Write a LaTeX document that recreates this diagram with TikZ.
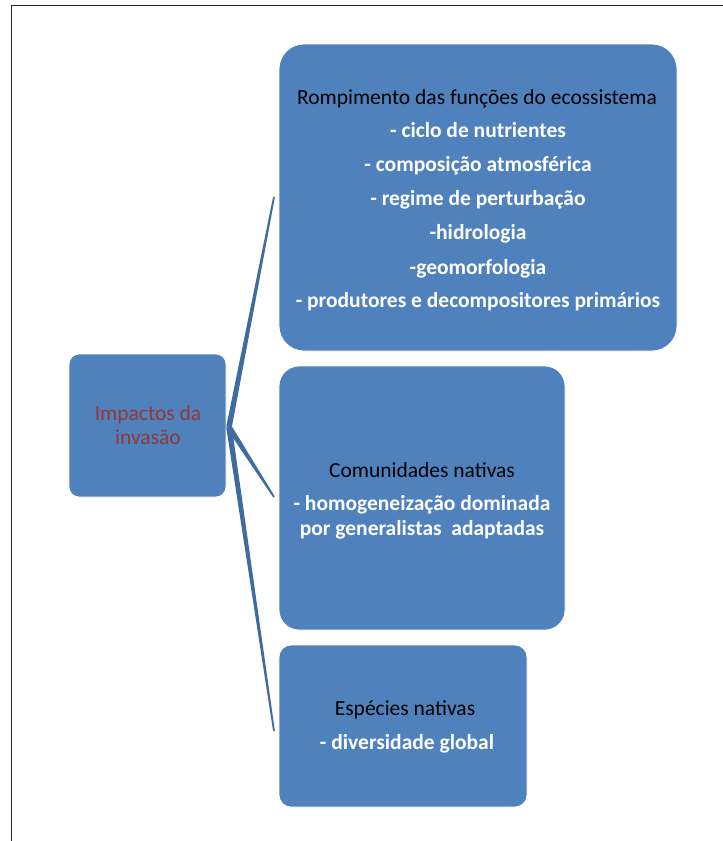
\documentclass[tikz,border=0pt]{standalone}
\usepackage{fontspec}
\setmainfont{Carlito}
\usetikzlibrary{calc}
\definecolor{boxblue}{HTML}{4F81BD}
\definecolor{linkblue}{HTML}{3F6B9E}
\definecolor{darkred}{HTML}{953735}
\newcommand{\taper}[2]{%
  \fill[linkblue] ($(#1)!2.8pt!90:(#2)$) -- ($(#2)!0.9pt!-90:(#1)$) -- ($(#2)!0.9pt!90:(#1)$) -- ($(#1)!2.8pt!-90:(#2)$) -- cycle;}
\begin{document}
\begin{tikzpicture}[x=1pt,y=-1pt,
  box/.style={draw=white,line width=0.8pt,fill=boxblue,inner sep=0pt},
  ttl/.style={text=black,font=\fontsize{21.5}{24}\selectfont,anchor=base,inner sep=0pt},
  itm/.style={text=white,font=\fontsize{21.5}{24}\selectfont\bfseries,anchor=base,inner sep=0pt},
  lft/.style={text=darkred,font=\fontsize{21.5}{24}\selectfont,anchor=base,inner sep=0pt}]
\useasboundingbox (0,0) rectangle (723,841);
\draw[line width=1.6pt,draw=black!85] (11.5,841) -- (11.5,5.5) -- (723,5.5);
% boxes
\draw[box,rounded corners=25pt] (279,44) rectangle (677,351) node[pos=0.5,inner sep=0pt] (b1) {};
\draw[box,rounded corners=20pt] (279,366) rectangle (565,630) node[pos=0.5,inner sep=0pt] (b2) {};
\draw[box,rounded corners=12pt] (279,645) rectangle (527,807) node[pos=0.5,inner sep=0pt] (b3) {};
\draw[box,rounded corners=10pt] (69,354) rectangle (226,497) node[pos=0.5,inner sep=0pt] (b0) {};
% connectors
\coordinate (hub) at (229,427);
\coordinate (e1) at (274,197);
\coordinate (e2) at (274,497);
\coordinate (e3) at (274,731);
\taper{hub}{e1}
\taper{hub}{e2}
\taper{hub}{e3}
% left box text
\node[lft] (t0a) at (148,420) {Impactos da};
\node[lft] (t0b) at (148,444) {invasão};
% box 1 text
\node[ttl] (t1) at (477,104) {Rompimento das funções do ecossistema};
\node[itm] (t1a) at (478,137) {- ciclo de nutrientes};
\node[itm] (t1b) at (478,171) {- composição atmosférica};
\node[itm] (t1c) at (478,205) {- regime de perturbação};
\node[itm] (t1d) at (478,239) {-hidrologia};
\node[itm] (t1e) at (478,274) {-geomorfologia};
\node[itm] (t1f) at (478,307) {- produtores e decompositores primários};
% box 2 text
\node[ttl] (t2) at (422,477) {Comunidades nativas};
\node[itm] (t2a) at (422,510) {- homogeneização dominada};
\node[itm] (t2b) at (422,535) {por generalistas\ \ adaptadas};
% box 3 text
\node[ttl] (t3) at (405,715) {Espécies nativas};
\node[itm] (t3a) at (407,749) {- diversidade global};
\end{tikzpicture}
\end{document}
